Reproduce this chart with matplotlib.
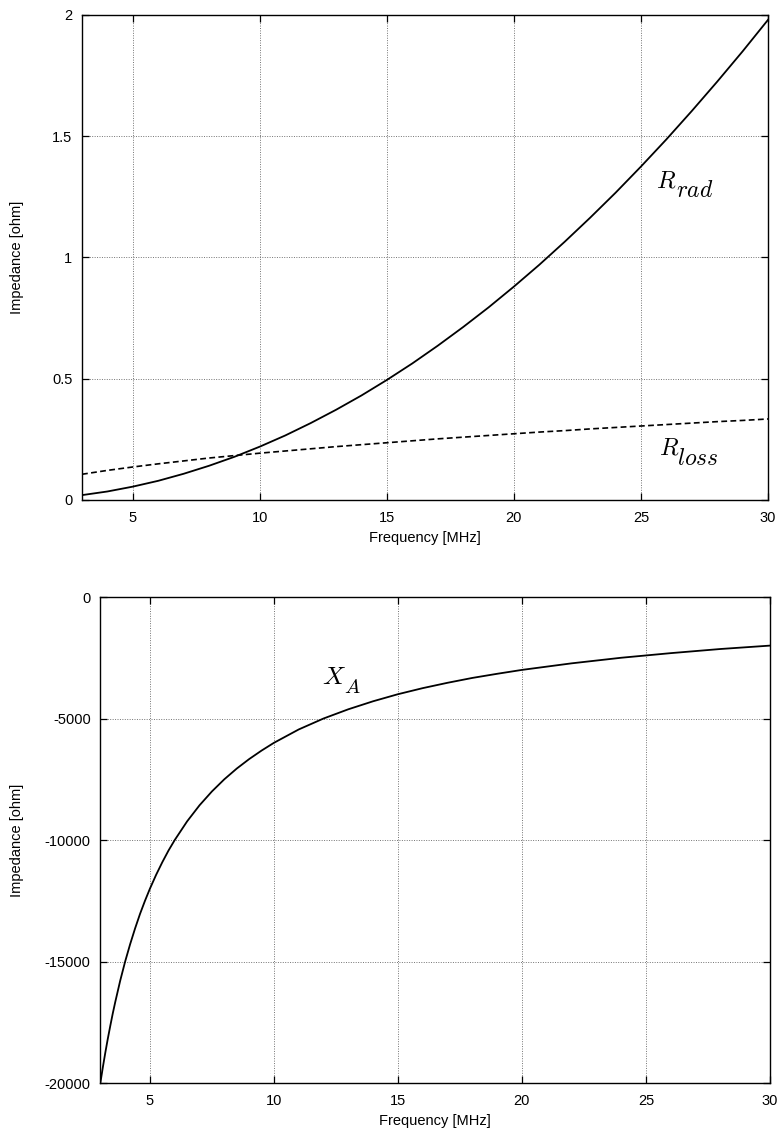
import matplotlib
matplotlib.use('Agg')
import matplotlib.pyplot as plt

# values
freq = [3, 4, 5, 6, 7, 8, 9, 10, 11, 12, 13, 14, 15, 16, 17, 18, 19, 20,
        21, 22, 23, 24, 25, 26, 27, 28, 29, 30]
r_rad = [0.020, 0.035, 0.055, 0.079, 0.108, 0.141, 0.178, 0.220, 0.266, 0.317,
         0.372, 0.431, 0.495, 0.563, 0.636, 0.713, 0.794, 0.880, 0.970, 1.065,
         1.164, 1.267, 1.375, 1.487, 1.604, 1.725, 1.850, 1.980]
r_loss = [0.106, 0.122, 0.136, 0.149, 0.161, 0.173, 0.183, 0.193, 0.202, 0.211,
          0.220, 0.228, 0.236, 0.244, 0.252, 0.259, 0.266, 0.273, 0.280, 0.286,
          0.293, 0.299, 0.305, 0.311, 0.317, 0.323, 0.328, 0.334]

freq_x = [3, 3.1, 3.2, 3.3, 3.4, 3.5, 3.6, 3.8, 4, 4.2, 4.4, 4.6, 4.8, 5,
          5.25, 5.5, 5.75, 6, 6.5, 7, 7.5, 8, 8.5, 9, 9.5, 10, 11, 12, 13, 14,
          15, 16, 17, 18, 19, 20, 22, 24, 26, 28, 30]
x_a = [-20000, -19355, -18750, -18180, -17650, -17140, -16670, -15790, -15000,
       -14290, -13640, -13040, -12500, -12000, -11430, -10910, -10430, -10000,
       -9230, -8570, -8000, -7500, -7060, -6670, -6320, -6000, -5450, -5000,
       -4620, -4290, -4000, -3750, -3530, -3330, -3160, -3000, -2730, -2500,
       -2310, -2140, -2000]

x_ticks = [5, 10, 15, 20, 25, 30]
top_yticks = [0, 0.5, 1, 1.5, 2]
top_ylabels = ['0', '0.5', '1', '1.5', '2']
bot_yticks = [-20000, -15000, -10000, -5000, 0]

plt.rcParams['font.family'] = ['Liberation Sans', 'DejaVu Sans']
plt.rcParams['mathtext.fontset'] = 'cm'
plt.rcParams['font.size'] = 10.5


def style_axes(ax, yticks, ylabels, label_x):
    ax.set_xlim(3, 30)
    ax.set_xticks(x_ticks)
    ax.set_yticks(yticks)
    ax.set_yticklabels(ylabels)
    ax.tick_params(direction='in', length=5, width=0.9, top=True, right=True,
                   labelsize=10.5)
    ax.tick_params(axis='x', pad=8)
    ax.tick_params(axis='y', pad=7)
    ax.grid(True, linestyle=(0, (1, 1.5)), color='0.45', linewidth=0.7)
    for sp in ax.spines.values():
        sp.set_linewidth(1.0)
    ax.set_xlabel('Frequency [MHz]', fontsize=10.5, labelpad=4)
    ax.set_ylabel('Impedance [ohm]', fontsize=10.5)
    ax.yaxis.set_label_coords(label_x, 0.5)


def curve_label(ax, x, y, main, sub, size, sub_size, dx, dy):
    # gnuplot/latex style label: big subscript placed by hand
    ax.text(x, y, main, fontsize=size, va='baseline')
    ax.annotate(sub, xy=(x, y), xytext=(dx, dy), textcoords='offset points',
                fontsize=sub_size, va='baseline')


fig = plt.figure(figsize=(7.84, 11.35), dpi=100)

# top: radiation and loss resistance
ax1 = fig.add_axes([0.1046, 0.5595, 0.875, 0.4273])
ax1.plot(freq, r_rad, color='black', linewidth=1.3)
ax1.plot(freq, r_loss, color='black', linewidth=1.2, linestyle=(0, (3.5, 2)))
ax1.set_ylim(0, 2)
style_axes(ax1, top_yticks, top_ylabels, -0.0845)
curve_label(ax1, 25.6, 1.29, r'$R$', r'$rad$', 17.5, 17, 14.5, -7)
curve_label(ax1, 25.7, 0.186, r'$R$', r'$loss$', 17.5, 17, 13.0, -7)

# bottom: antenna reactance
ax2 = fig.add_axes([0.128, 0.0458, 0.854, 0.4282])
ax2.plot(freq_x, x_a, color='black', linewidth=1.3)
ax2.set_ylim(-20000, 0)
style_axes(ax2, bot_yticks, [str(v) for v in bot_yticks], -0.114)
curve_label(ax2, 11.95, -3580, r'$X$', r'$A$', 18.5, 14.5, 15.5, -6.5)

fig.savefig('out.png', dpi=100)
